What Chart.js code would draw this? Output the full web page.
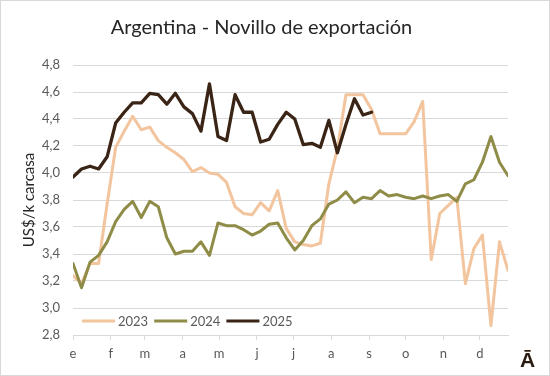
<!DOCTYPE html>
<html>
<head>
<meta charset="utf-8">
<script src="https://cdn.jsdelivr.net/npm/chart.js@4.4.1/dist/chart.umd.min.js"></script>
<style>
html,body{margin:0;padding:0;background:#fff}
canvas{display:block}
</style>
</head>
<body>
<canvas id="c" width="550" height="376"></canvas>
<script>
// ---- Data ----
const chartTitle = 'Argentina - Novillo de exportación';
const yAxisTitle = 'US$/k carcasa';
const monthLabels = ['e','f','m','a','m','j','j','a','s','o','n','d'];
const monthStartDays = [0,31,59,90,120,151,181,212,243,273,304,334];
const seriesNames = ['2023','2024','2025'];
const seriesColors = ['#F2C59E','#8F8C48','#3A2416'];
const yMin = 2.8, yMax = 4.8, yStep = 0.2;
const DAYS_PER_WEEK = 7;
const lastDay = 357;

const v2023 = [3.24,3.18,3.33,3.33,3.77,4.19,4.31,4.42,4.32,4.34,4.24,4.19,4.15,4.10,4.01,4.04,4.00,3.99,3.93,3.75,3.70,3.69,3.78,3.72,3.87,3.59,3.49,3.47,3.46,3.48,3.92,4.18,4.58,4.58,4.58,4.47,4.29,4.29,4.29,4.29,4.38,4.53,3.36,3.70,3.76,3.82,3.18,3.44,3.54,2.87,3.49,3.28];
const v2024 = [3.33,3.15,3.34,3.39,3.49,3.64,3.73,3.79,3.67,3.79,3.75,3.52,3.40,3.42,3.42,3.49,3.39,3.63,3.61,3.61,3.58,3.54,3.57,3.62,3.63,3.52,3.43,3.50,3.61,3.66,3.77,3.80,3.86,3.78,3.82,3.81,3.87,3.83,3.84,3.82,3.81,3.83,3.81,3.83,3.84,3.79,3.92,3.95,4.08,4.27,4.08,3.98];
const v2025 = [3.97,4.03,4.05,4.03,4.12,4.37,4.45,4.52,4.52,4.59,4.58,4.51,4.59,4.49,4.44,4.31,4.66,4.27,4.24,4.58,4.45,4.45,4.23,4.25,4.36,4.45,4.40,4.21,4.22,4.19,4.39,4.15,4.36,4.55,4.43,4.45];

const seriesValues = [v2023, v2024, v2025];
const toPoints = arr => arr.map((v, i) => ({x: i * DAYS_PER_WEEK, y: v}));

const FONT = 'Lato';

const decorPlugin = {
  id: 'decor',
  beforeDraw(chart) {
    const {ctx, width, height} = chart;
    ctx.save();
    ctx.fillStyle = '#ffffff';
    ctx.fillRect(0, 0, width, height);
    ctx.strokeStyle = '#d9d9d9';
    ctx.lineWidth = 1;
    ctx.strokeRect(0.5, 0.5, width - 1, height - 1);
    ctx.restore();
  },
  afterDraw(chart) {
    const ctx = chart.ctx;
    ctx.save();
    // legend inside plot
    const ly = 321;
    ctx.font = '13px ' + FONT;
    ctx.textBaseline = 'middle';
    ctx.textAlign = 'left';
    chart.data.datasets.forEach((ds, i) => {
      const x0 = 82 + i * 72.2;
      ctx.strokeStyle = ds.borderColor;
      ctx.lineWidth = 3;
      ctx.lineCap = 'butt';
      ctx.beginPath();
      ctx.moveTo(x0, ly);
      ctx.lineTo(x0 + 33, ly);
      ctx.stroke();
      ctx.fillStyle = '#595959';
      ctx.fillText(ds.label, x0 + 36, ly + 0.5);
    });
    // logo
    ctx.fillStyle = '#2a1a0f';
    ctx.font = 'bold 21px "Liberation Sans Narrow", "Liberation Sans"';
    ctx.textAlign = 'center';
    ctx.textBaseline = 'alphabetic';
    ctx.fillText('Ā', 527.5, 366.5);
    ctx.restore();
  }
};

new Chart(document.getElementById('c'), {
  type: 'line',
  data: {
    datasets: seriesNames.map((name, i) => ({
      label: name,
      data: toPoints(seriesValues[i]),
      borderColor: seriesColors[i],
      backgroundColor: seriesColors[i],
      borderWidth: i === 2 ? 3.3 : 3,
      pointRadius: 0,
      pointHoverRadius: 0,
      tension: 0,
      fill: false,
      borderJoinStyle: 'round',
      borderCapStyle: 'round',
      order: seriesNames.length - 1 - i
    }))
  },
  options: {
    responsive: false,
    animation: false,
    events: [],
    layout: {padding: {left: 15, right: 42, top: 0, bottom: 0}},
    plugins: {
      legend: {display: false},
      tooltip: {enabled: false},
      title: {
        display: true,
        text: chartTitle,
        color: '#262626',
        font: {family: FONT, size: 20, weight: 'normal', lineHeight: 1.2},
        padding: {top: 16, bottom: 25}
      }
    },
    scales: {
      x: {
        type: 'linear',
        min: 0,
        max: lastDay,
        afterBuildTicks: s => { s.ticks = monthStartDays.map(d => ({value: d})); },
        afterFit: s => { s.height = 41; },
        grid: {drawOnChartArea: false, drawTicks: true, tickLength: 5, color: '#d9d9d9', lineWidth: 1},
        border: {display: true, color: '#d9d9d9', width: 1},
        ticks: {
          autoSkip: false, maxRotation: 0, minRotation: 0, padding: 6,
          color: '#595959', font: {family: FONT, size: 13},
          callback: (v, i) => monthLabels[i]
        }
      },
      y: {
        min: yMin,
        max: yMax,
        afterFit: s => { s.width = 58; },
        grid: {drawTicks: false, color: '#d9d9d9', lineWidth: 1},
        border: {display: false},
        ticks: {
          stepSize: yStep, padding: 13, color: '#595959',
          font: {family: FONT, size: 13},
          callback: v => Number(v).toFixed(1).replace('.', ',')
        },
        title: {
          display: true, text: yAxisTitle, color: '#262626',
          font: {family: FONT, size: 15}, padding: {top: 5, bottom: 0}
        }
      }
    }
  },
  plugins: [decorPlugin]
});
</script>
</body>
</html>
